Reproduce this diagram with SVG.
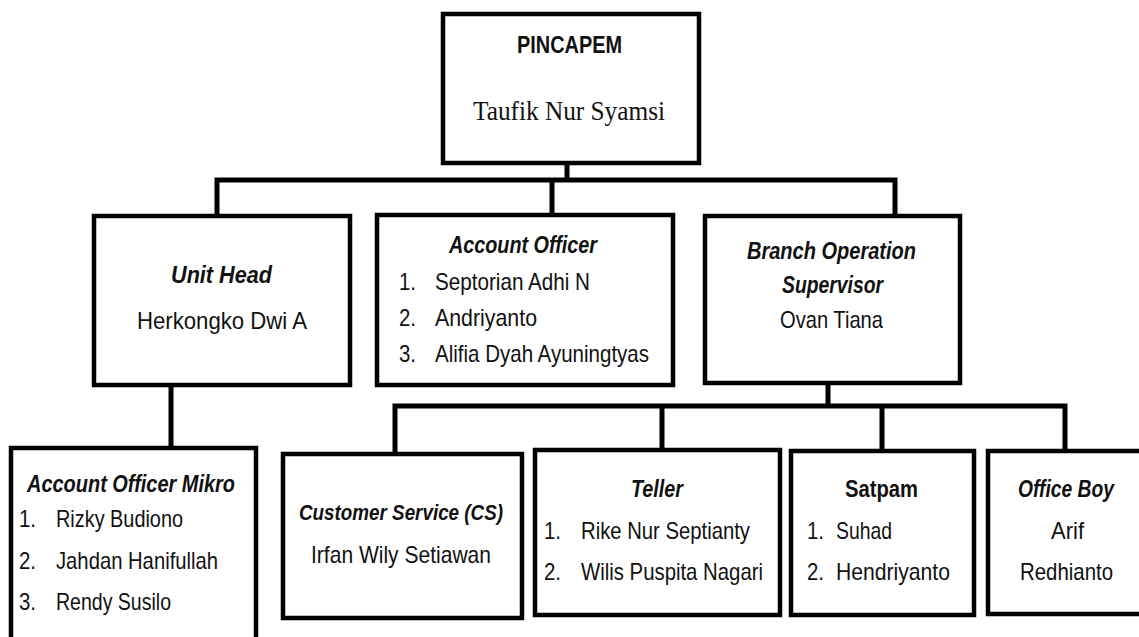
<svg xmlns="http://www.w3.org/2000/svg" width="1139" height="637" viewBox="0 0 1139 637">
<style>
.box{fill:#fff;stroke:#000;stroke-width:4.5}
.ln{fill:none;stroke:#000;stroke-width:5;stroke-linecap:square}
text{font-family:"Liberation Sans",Arial,sans-serif;font-size:24px;fill:#111}
.b{font-weight:bold}
.bi{font-weight:bold;font-style:italic}
.serif{font-family:"Liberation Serif","Times New Roman",serif;font-size:27px}
</style>
<rect width="1139" height="637" fill="#fff"/>
<g id="connectors">
<path class="ln" d="M567 163V180M217 180H895M217 180V216M552 180V215M895 180V216"/>
<path class="ln" d="M171 385V448"/>
<path class="ln" d="M828 383V406M395 406H1065M395 406V454M662 406V450M882 406V451M1065 406V451"/>
</g>
<g id="pincapem">
<rect class="box" x="443" y="14" width="256" height="149"/>
<text class="b" x="517" y="53" textLength="105" lengthAdjust="spacingAndGlyphs">PINCAPEM</text>
<text class="serif" x="473" y="120" textLength="192" lengthAdjust="spacingAndGlyphs">Taufik Nur Syamsi</text>
</g>
<g id="unit-head">
<rect class="box" x="94" y="216" width="256" height="169"/>
<text class="bi" x="171" y="283" textLength="101" lengthAdjust="spacingAndGlyphs">Unit Head</text>
<text x="137" y="329" textLength="170" lengthAdjust="spacingAndGlyphs">Herkongko Dwi A</text>
</g>
<g id="account-officer">
<rect class="box" x="377" y="215" width="296" height="170"/>
<text class="bi" x="449" y="253" textLength="148" lengthAdjust="spacingAndGlyphs">Account Officer</text>
<text x="399" y="290" textLength="17" lengthAdjust="spacingAndGlyphs">1.</text>
<text x="435" y="290" textLength="155" lengthAdjust="spacingAndGlyphs">Septorian Adhi N</text>
<text x="399" y="326" textLength="17" lengthAdjust="spacingAndGlyphs">2.</text>
<text x="435" y="326" textLength="102" lengthAdjust="spacingAndGlyphs">Andriyanto</text>
<text x="399" y="362" textLength="17" lengthAdjust="spacingAndGlyphs">3.</text>
<text x="435" y="362" textLength="214" lengthAdjust="spacingAndGlyphs">Alifia Dyah Ayuningtyas</text>
</g>
<g id="branch-operation-supervisor">
<rect class="box" x="705" y="216" width="255" height="167"/>
<text class="bi" x="747" y="259" textLength="169" lengthAdjust="spacingAndGlyphs">Branch Operation</text>
<text class="bi" x="782" y="293" textLength="101" lengthAdjust="spacingAndGlyphs">Supervisor</text>
<text x="780" y="328" textLength="103" lengthAdjust="spacingAndGlyphs">Ovan Tiana</text>
</g>
<g id="account-officer-mikro">
<rect class="box" x="11" y="448" width="245" height="200"/>
<text class="bi" x="27" y="492" textLength="208" lengthAdjust="spacingAndGlyphs">Account Officer Mikro</text>
<text x="19" y="527" textLength="17" lengthAdjust="spacingAndGlyphs">1.</text>
<text x="56" y="527" textLength="127" lengthAdjust="spacingAndGlyphs">Rizky Budiono</text>
<text x="19" y="569" textLength="17" lengthAdjust="spacingAndGlyphs">2.</text>
<text x="56" y="569" textLength="162" lengthAdjust="spacingAndGlyphs">Jahdan Hanifullah</text>
<text x="19" y="610" textLength="17" lengthAdjust="spacingAndGlyphs">3.</text>
<text x="56" y="610" textLength="115" lengthAdjust="spacingAndGlyphs">Rendy Susilo</text>
</g>
<g id="customer-service">
<rect class="box" x="283" y="454" width="239" height="164"/>
<text class="bi" x="299" y="520" style="font-size:22px" textLength="204" lengthAdjust="spacingAndGlyphs">Customer Service (CS)</text>
<text x="311" y="563" textLength="180" lengthAdjust="spacingAndGlyphs">Irfan Wily Setiawan</text>
</g>
<g id="teller">
<rect class="box" x="535" y="450" width="245" height="165"/>
<text class="bi" x="631" y="497" textLength="52" lengthAdjust="spacingAndGlyphs">Teller</text>
<text x="544" y="539" textLength="17" lengthAdjust="spacingAndGlyphs">1.</text>
<text x="581" y="539" textLength="169" lengthAdjust="spacingAndGlyphs">Rike Nur Septianty</text>
<text x="544" y="580" textLength="17" lengthAdjust="spacingAndGlyphs">2.</text>
<text x="581" y="580" textLength="182" lengthAdjust="spacingAndGlyphs">Wilis Puspita Nagari</text>
</g>
<g id="satpam">
<rect class="box" x="791" y="451" width="183" height="164"/>
<text class="b" x="845" y="497" textLength="73" lengthAdjust="spacingAndGlyphs">Satpam</text>
<text x="807" y="539" textLength="17" lengthAdjust="spacingAndGlyphs">1.</text>
<text x="836" y="539" textLength="56" lengthAdjust="spacingAndGlyphs">Suhad</text>
<text x="807" y="580" textLength="17" lengthAdjust="spacingAndGlyphs">2.</text>
<text x="836" y="580" textLength="114" lengthAdjust="spacingAndGlyphs">Hendriyanto</text>
</g>
<g id="office-boy">
<rect class="box" x="988" y="451" width="160" height="163"/>
<text class="bi" x="1018" y="497" textLength="96" lengthAdjust="spacingAndGlyphs">Office Boy</text>
<text x="1051" y="539" textLength="33" lengthAdjust="spacingAndGlyphs">Arif</text>
<text x="1020" y="580" textLength="93" lengthAdjust="spacingAndGlyphs">Redhianto</text>
</g>
</svg>
